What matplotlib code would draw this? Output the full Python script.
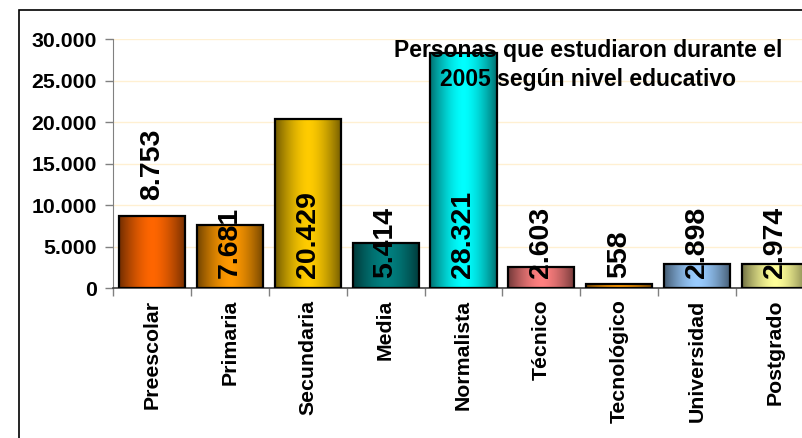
import numpy as np
import matplotlib
matplotlib.use('Agg')
import matplotlib.pyplot as plt
from matplotlib.colors import to_rgb
from matplotlib.patches import Rectangle

plt.rcParams['font.family'] = ['Liberation Sans', 'DejaVu Sans']
plt.rcParams['font.weight'] = 'bold'

# Data
niveles = ['Preescolar', 'Primaria', 'Secundaria', 'Media', 'Normalista',
           'Técnico', 'Tecnológico', 'Universidad', 'Postgrado']
personas = [8753, 7681, 20429, 5414, 28321, 2603, 558, 2898, 2974]
colores = ['#FF6600', '#FF9900', '#FFCC00', '#008080', '#00FFFF',
           '#FF8080', '#FF9900', '#99CCFF', '#FFFF99']
etiquetas = ['8.753', '7.681', '20.429', '5.414', '28.321',
             '2.603', '558', '2.898', '2.974']
titulo = 'Personas que estudiaron durante el\n2005 según nivel educativo'


def gradient_bar(ax, x, h, width, color):
    # horizontal gradient: dark edges, bright centre
    t = np.linspace(0, 1, 64)
    f = 0.45 + 0.55 * (1 - np.abs(2 * t - 1) ** 1.6)
    rgb = np.array(to_rgb(color))
    img = (rgb[None, :] * f[:, None])[None, :, :]
    ax.imshow(img, extent=(x - width / 2, x + width / 2, 0, h),
              aspect='auto', zorder=2, interpolation='bilinear')
    ax.add_patch(Rectangle((x - width / 2, 0), width, h, facecolor='none',
                           edgecolor='black', linewidth=1.6, zorder=3))


fig = plt.figure(figsize=(8.03, 4.38), dpi=100)
ax = fig.add_axes([113 / 803, 149.7 / 438, 701 / 803, 249 / 438])

width = 0.85
for i, (v, c) in enumerate(zip(personas, colores)):
    gradient_bar(ax, i, v, width, c)
    # data labels
    y = v + 1900 if i == 0 else 1300
    ax.text(i, y, etiquetas[i], rotation=90, ha='center', va='bottom',
            fontsize=20.5, fontweight='bold', zorder=5)

ax.set_xlim(-0.5, len(niveles) - 0.5)
ax.set_ylim(0, 30000)

yt = np.arange(0, 30001, 5000)
ax.set_yticks(yt)
ax.set_yticklabels([f'{v:,}'.replace(',', '.') for v in yt],
                   fontsize=15.3, fontweight='bold')
ax.tick_params(axis='y', length=6, width=1, color='#808080', pad=5.5)
ax.yaxis.grid(True, color='#FFF0D2', linewidth=1)
ax.set_axisbelow(True)

ax.set_xticks(range(len(niveles)))
ax.set_xticklabels(niveles, rotation=90, fontsize=15.3, fontweight='bold',
                   va='top')
ax.tick_params(axis='x', which='major', length=0, pad=8)
ax.set_xticks(np.arange(-0.5, len(niveles), 1), minor=True)
ax.tick_params(axis='x', which='minor', length=6, width=1, color='#808080')

for s in ['top', 'right']:
    ax.spines[s].set_visible(False)
ax.spines['left'].set_color('#808080')
ax.spines['bottom'].set_color('#404040')
ax.spines['bottom'].set_linewidth(1.2)

fig.text(588 / 803, 1 - 65 / 438, titulo, ha='center', va='center',
         multialignment='center', fontsize=16.5, fontweight='bold',
         linespacing=1.3, zorder=10)

# outer chart frame (extends past the image on the right and bottom)
fig.patches.append(Rectangle((19 / 803, -0.1), 1.2, 1 - 10 / 438 + 0.1,
                             transform=fig.transFigure, fill=False,
                             edgecolor='black', linewidth=1.2))

fig.savefig('out.png', dpi=100)
